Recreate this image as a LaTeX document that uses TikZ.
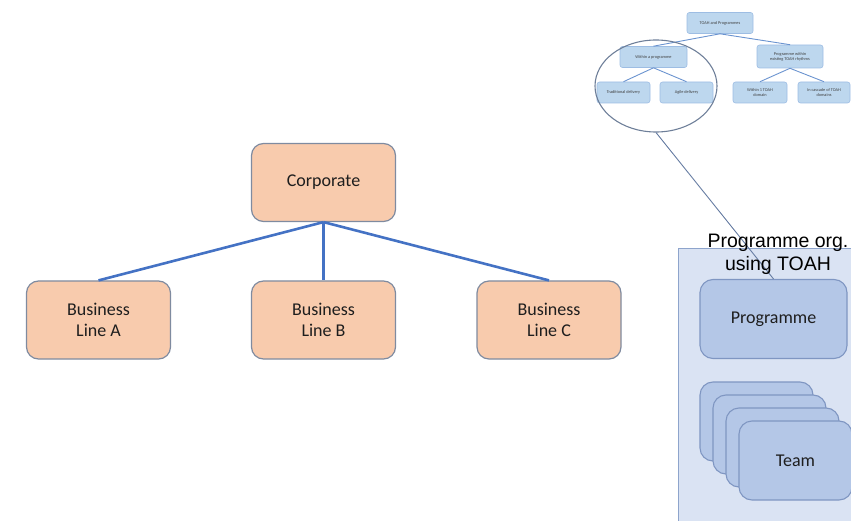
\documentclass[tikz,border=0pt]{standalone}
\usepackage{fontspec}
\setmainfont{Carlito}
\newfontfamily\titlefont{Liberation Sans}
\usetikzlibrary{shapes.geometric}

\definecolor{peach}{HTML}{F8CBAD}
\definecolor{peachedge}{HTML}{7F8BA0}
\definecolor{linkblue}{HTML}{4472C4}
\definecolor{panelfill}{HTML}{DAE3F3}
\definecolor{paneledge}{HTML}{8EA4CC}
\definecolor{unitfill}{HTML}{B4C7E7}
\definecolor{unitedge}{HTML}{7F96C2}
\definecolor{minifill}{HTML}{BDD7EE}
\definecolor{miniedge}{HTML}{9DBDE3}
\definecolor{minilink}{HTML}{6A93CF}
\definecolor{ringedge}{HTML}{6E7F99}
\definecolor{inkdark}{HTML}{1E1E1E}

\tikzset{
  orgbox/.style={draw=peachedge, fill=peach, line width=1.2pt, rounded corners=12pt,
    minimum width=144pt, minimum height=78pt, align=center, text=inkdark,
    font=\fontsize{18}{21}\selectfont, inner sep=0pt},
  orglink/.style={draw=linkblue, line width=2.6pt},
  unitbox/.style={draw=unitedge, fill=unitfill, line width=1.1pt, rounded corners=13pt,
    minimum height=79pt, align=center, text=inkdark,
    font=\fontsize{18}{21}\selectfont, inner sep=0pt},
  minibox/.style={draw=miniedge, fill=minifill, line width=0.6pt, rounded corners=2.5pt,
    minimum height=21pt, align=center, text=black!75,
    font=\fontsize{4.3}{5}\selectfont, inner sep=0pt},
  minilinkstyle/.style={draw=minilink, line width=0.9pt},
}

\begin{document}
\begin{tikzpicture}[x=1pt, y=-1pt]
\useasboundingbox (0,0) rectangle (851,521);

% corporate hierarchy
\node[orgbox] (corp) at (323.5,182.5) {Corporate};
\node[orgbox] (bla) at (98.5,320) {Business\\Line A};
\node[orgbox] (blb) at (323.5,320) {Business\\Line B};
\node[orgbox] (blc) at (549,320) {Business\\Line C};
\draw[orglink] (corp.south) -- (bla.north);
\draw[orglink] (corp.south) -- (blb.north);
\draw[orglink] (corp.south) -- (blc.north);

% programme organisation panel
\node[draw=paneledge, fill=panelfill, line width=0.8pt, minimum width=190pt,
  minimum height=290pt, anchor=north west, inner sep=0pt] (panel) at (678,248) {};
\node[unitbox, minimum width=147pt] (prog) at (773.5,319) {Programme};
\node[unitbox, minimum width=113pt] (team1) at (756.5,421.5) {};
\node[unitbox, minimum width=113pt] (team2) at (769.5,434.5) {};
\node[unitbox, minimum width=113pt] (team3) at (782.5,447.5) {};
\node[unitbox, minimum width=113pt] (team4) at (795.5,460.5) {Team};

% overview tree
\node[minibox, minimum width=66pt] (root) at (720,23) {TOAH and Programmes};
\node[minibox, minimum width=67pt] (within) at (653.5,57) {Within a programme};
\node[minibox, minimum width=66pt, minimum height=23pt] (across) at (790,56.5) {Programme within\\existing TOAH rhythms};
\node[minibox, minimum width=53pt] (trad) at (623.5,92.5) {Traditional delivery};
\node[minibox, minimum width=53pt] (agile) at (686.5,92.5) {Agile delivery};
\node[minibox, minimum width=54pt] (dom) at (760,92.5) {Within 1 TOAH\\domain};
\node[minibox, minimum width=52pt] (casc) at (824,92.5) {In cascade of TOAH\\domains};
\draw[minilinkstyle] (root.south) -- (within.north);
\draw[minilinkstyle] (root.south) -- (across.north);
\draw[minilinkstyle] (within.south) -- (trad.north);
\draw[minilinkstyle] (within.south) -- (agile.north);
\draw[minilinkstyle] (across.south) -- (dom.north);
\draw[minilinkstyle] (across.south) -- (casc.north);

% highlight ring and its pointer to the programme
\node[ellipse, draw=ringedge, line width=1.1pt, minimum width=122pt,
  minimum height=92pt, inner sep=0pt] (ring) at (656,86) {};
\draw[draw=ringedge!80!linkblue, line width=0.9pt] (ring.south) -- (prog.north);

\node[align=center, font=\titlefont\fontsize{19.5}{23}\selectfont, text=black,
  inner sep=0pt] (title) at (778,254.5) {Programme org.\\using TOAH};
\end{tikzpicture}
\end{document}
